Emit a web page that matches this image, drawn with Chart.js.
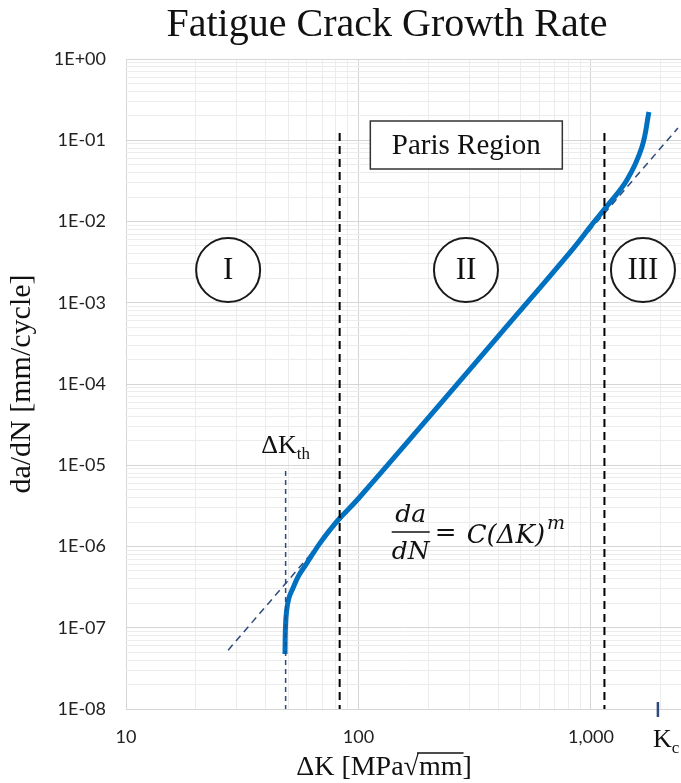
<!DOCTYPE html>
<html>
<head>
<meta charset="utf-8">
<script src="https://cdn.jsdelivr.net/npm/chart.js@4.4.1/dist/chart.umd.min.js"></script>
<style>
  html, body { margin: 0; padding: 0; background: #fff; overflow: hidden; }
</style>
</head>
<body>
<canvas id="chart" width="681" height="783"></canvas>
<script>
// growth curve
const deltaK = [48.3, 48.48, 49.0, 50.2, 52.3, 55.2, 60.0, 64.4, 68.3, 75.4, 83.2, 100, 200, 398, 837, 1020, 1183, 1428, 1657, 1776];
const crackRate = [4.75e-8, 9.38e-8, 1.56e-7, 2.32e-7, 3.08e-7, 4.33e-7, 6.26e-7, 8.56e-7, 1.10e-6, 1.60e-6, 2.24e-6, 3.9e-6, 3.85e-5, 3.82e-4, 4.6e-3, 9.5e-3, 1.6e-2, 3.24e-2, 8.26e-2, 0.223];

// Paris law line (two ends)
const parisK = [27.5, 2366];
const parisRate = [5.3e-8, 0.1415];

// region boundaries and thresholds
const regionBounds = [83, 1143];
const boundsTop = 0.123;
const kThreshold = 48.6;
const kThresholdTop = 8.5e-6;
const kCritical = 1941;

// region labels
const regionNames = ['I', 'II', 'III'];
const regionK = [27.5, 290, 1674];
const regionRate = 2.53e-3;
const parisBoxK = 291;
const parisBoxRate = 0.0874;
const formulaK = 139;
const formulaRate = 1.51e-6;

// axes
const xDecades = [10, 100, 1000];
const xTickLabels = ['10', '100', '1,000'];
const yDecades = [1e-8, 1e-7, 1e-6, 1e-5, 1e-4, 1e-3, 1e-2, 1e-1, 1];
const yTickLabels = ['1E-08', '1E-07', '1E-06', '1E-05', '1E-04', '1E-03', '1E-02', '1E-01', '1E+00'];

const SERIF = '"Liberation Serif", "Times New Roman", serif';
const MATH = '"DejaVu Serif", serif';
const SANS = 'Lato, "Noto Sans", sans-serif';
const NAVY = '#2e4a7a';

const isDecade = (v) => Math.abs(Math.log10(v) - Math.round(Math.log10(v))) < 1e-9;

function logTicks(decades, max) {
  const out = [];
  decades.forEach((d) => {
    for (let k = 1; k <= 9; k++) {
      const v = Math.round(d * k * 1e12) / 1e12;
      if (v <= max) out.push({value: v, major: k === 1});
    }
  });
  return out;
}

function labelFor(decades, labels, value) {
  const i = decades.findIndex((d) => Math.abs(d - value) / d < 1e-9);
  return i >= 0 ? labels[i] : '';
}

const gridColor = (ctx) => (ctx.tick && isDecade(ctx.tick.value) ? '#d6d6d6' : '#ececec');

const toPoints = (xs, ys) => xs.map((v, i) => ({x: v, y: ys[i]}));

function drawSubscripted(ctx, main, sub, x, baseline, size, align) {
  ctx.font = `${size}px ${SERIF}`;
  const w1 = ctx.measureText(main).width;
  ctx.font = `${Math.round(size * 0.65)}px ${SERIF}`;
  const w2 = ctx.measureText(sub).width;
  let left = x;
  if (align === 'center') {
    left = x - (w1 + w2) / 2;
  }
  ctx.textAlign = 'left';
  ctx.textBaseline = 'alphabetic';
  ctx.font = `${size}px ${SERIF}`;
  ctx.fillText(main, left, baseline);
  ctx.font = `${Math.round(size * 0.65)}px ${SERIF}`;
  ctx.fillText(sub, left + w1, baseline + size * 0.22);
}

const annotations = {
  id: 'annotations',
  afterDatasetsDraw(chart) {
    const {ctx, scales: {x, y}, chartArea} = chart;
    ctx.save();

    // region circles
    regionNames.forEach((name, i) => {
      const cx = x.getPixelForValue(regionK[i]);
      const cy = y.getPixelForValue(regionRate);
      ctx.beginPath();
      ctx.arc(cx, cy, 32, 0, Math.PI * 2);
      ctx.fillStyle = '#fff';
      ctx.fill();
      ctx.lineWidth = 2;
      ctx.strokeStyle = '#1a1a1a';
      ctx.stroke();
      ctx.fillStyle = '#111';
      ctx.font = `31px ${SERIF}`;
      ctx.textAlign = 'center';
      ctx.textBaseline = 'middle';
      ctx.fillText(name, cx, cy + 1);
    });

    // Paris Region box
    const bx = x.getPixelForValue(parisBoxK);
    const by = y.getPixelForValue(parisBoxRate);
    ctx.fillStyle = '#fff';
    ctx.fillRect(bx - 96, by - 24, 192, 48);
    ctx.lineWidth = 1.5;
    ctx.strokeStyle = '#333';
    ctx.strokeRect(bx - 96, by - 24, 192, 48);
    ctx.fillStyle = '#111';
    ctx.font = `29px ${SERIF}`;
    ctx.textAlign = 'center';
    ctx.textBaseline = 'middle';
    ctx.fillText('Paris Region', bx, by + 1);

    // formula
    const fx = x.getPixelForValue(formulaK);
    const fy = y.getPixelForValue(formulaRate);
    ctx.font = `italic 25px ${MATH}`;
    ctx.textBaseline = 'alphabetic';
    ctx.textAlign = 'center';
    ctx.fillText('da', fx + 19, fy - 10);
    ctx.fillText('dN', fx + 19, fy + 27);
    ctx.beginPath();
    ctx.moveTo(fx, fy);
    ctx.lineTo(fx + 38, fy);
    ctx.lineWidth = 1.5;
    ctx.strokeStyle = '#111';
    ctx.stroke();
    ctx.textAlign = 'left';
    ctx.font = `26px ${MATH}`;
    ctx.fillText('=', fx + 43, fy + 9);
    ctx.font = `italic 26px ${MATH}`;
    const rhs = 'C(ΔK)';
    ctx.fillText(rhs, fx + 75, fy + 11);
    const rhsW = ctx.measureText(rhs).width;
    ctx.font = `italic 19px ${MATH}`;
    ctx.fillText('m', fx + 77 + rhsW, fy - 3);

    // ΔKth label
    ctx.fillStyle = '#111';
    drawSubscripted(ctx, 'ΔK', 'th', x.getPixelForValue(kThreshold), 453, 26, 'center');

    // Kc tick and label
    const kcx = x.getPixelForValue(kCritical);
    ctx.beginPath();
    ctx.moveTo(kcx, chartArea.bottom - 7);
    ctx.lineTo(kcx, chartArea.bottom + 8);
    ctx.lineWidth = 2.5;
    ctx.strokeStyle = NAVY;
    ctx.stroke();
    drawSubscripted(ctx, 'K', 'c', kcx - 5, 747, 26, 'left');

    ctx.restore();
  },
  afterDraw(chart) {
    const {ctx} = chart;
    ctx.save();
    ctx.fillStyle = '#111';

    // chart title
    ctx.font = `40px ${SERIF}`;
    ctx.textAlign = 'center';
    ctx.textBaseline = 'alphabetic';
    ctx.fillText('Fatigue Crack Growth Rate', 387, 36);

    // x axis title with radical bar
    ctx.font = `28px ${SERIF}`;
    const full = 'ΔK [MPa√mm]';
    const total = ctx.measureText(full).width;
    const left = 384 - total / 2;
    ctx.textAlign = 'left';
    ctx.fillText(full, left, 775);
    const x1 = left + ctx.measureText('ΔK [MPa√').width;
    const x2 = left + ctx.measureText('ΔK [MPa√mm').width;
    ctx.beginPath();
    ctx.moveTo(x1 - 2, 753);
    ctx.lineTo(x2 + 1, 753);
    ctx.lineWidth = 1.3;
    ctx.strokeStyle = '#111';
    ctx.stroke();

    // y axis title
    ctx.translate(22, 384);
    ctx.rotate(-Math.PI / 2);
    ctx.textAlign = 'center';
    ctx.textBaseline = 'middle';
    ctx.font = `30px ${SERIF}`;
    ctx.fillText('da/dN [mm/cycle]', 0, 0);
    ctx.restore();
  }
};

new Chart(document.getElementById('chart'), {
  type: 'line',
  data: {
    datasets: [
      {
        data: toPoints([regionBounds[0], regionBounds[0]], [boundsTop, yDecades[0]]),
        borderColor: '#000',
        borderWidth: 2,
        borderDash: [8, 5],
        pointRadius: 0
      },
      {
        data: toPoints([regionBounds[1], regionBounds[1]], [boundsTop, yDecades[0]]),
        borderColor: '#000',
        borderWidth: 2,
        borderDash: [8, 5],
        pointRadius: 0
      },
      {
        data: toPoints([kThreshold, kThreshold], [kThresholdTop, yDecades[0]]),
        borderColor: NAVY,
        borderWidth: 1.5,
        borderDash: [5, 4],
        pointRadius: 0
      },
      {
        data: toPoints(deltaK, crackRate),
        borderColor: '#0070c0',
        borderWidth: 5,
        borderCapStyle: 'butt',
        pointRadius: 0,
        tension: 0.4
      },
      {
        data: toPoints(parisK, parisRate),
        borderColor: NAVY,
        borderWidth: 1.5,
        borderDash: [7, 5],
        pointRadius: 0
      }
    ]
  },
  options: {
    responsive: false,
    animation: false,
    devicePixelRatio: 1,
    layout: {padding: {top: 59, right: 0, left: 0, bottom: 0}},
    plugins: {legend: {display: false}, tooltip: {enabled: false}},
    scales: {
      x: {
        type: 'logarithmic',
        min: 10,
        max: 2440,
        afterBuildTicks: (scale) => { scale.ticks = logTicks(xDecades, 2440); },
        afterFit: (scale) => { scale.height = 74; },
        grid: {color: gridColor, drawTicks: false, lineWidth: 1},
        border: {display: false},
        ticks: {
          autoSkip: false,
          maxRotation: 0,
          padding: 17,
          color: '#222',
          font: {family: SANS, size: 18},
          callback: (value) => labelFor(xDecades, xTickLabels, value)
        }
      },
      y: {
        type: 'logarithmic',
        min: 1e-8,
        max: 1,
        afterBuildTicks: (scale) => { scale.ticks = logTicks(yDecades, 1); },
        afterFit: (scale) => { scale.width = 126; },
        grid: {color: gridColor, drawTicks: false, lineWidth: 1},
        border: {display: false},
        ticks: {
          autoSkip: false,
          padding: 20,
          color: '#222',
          font: {family: SANS, size: 18},
          callback: (value) => labelFor(yDecades, yTickLabels, value)
        }
      }
    }
  },
  plugins: [annotations]
});
</script>
</body>
</html>
